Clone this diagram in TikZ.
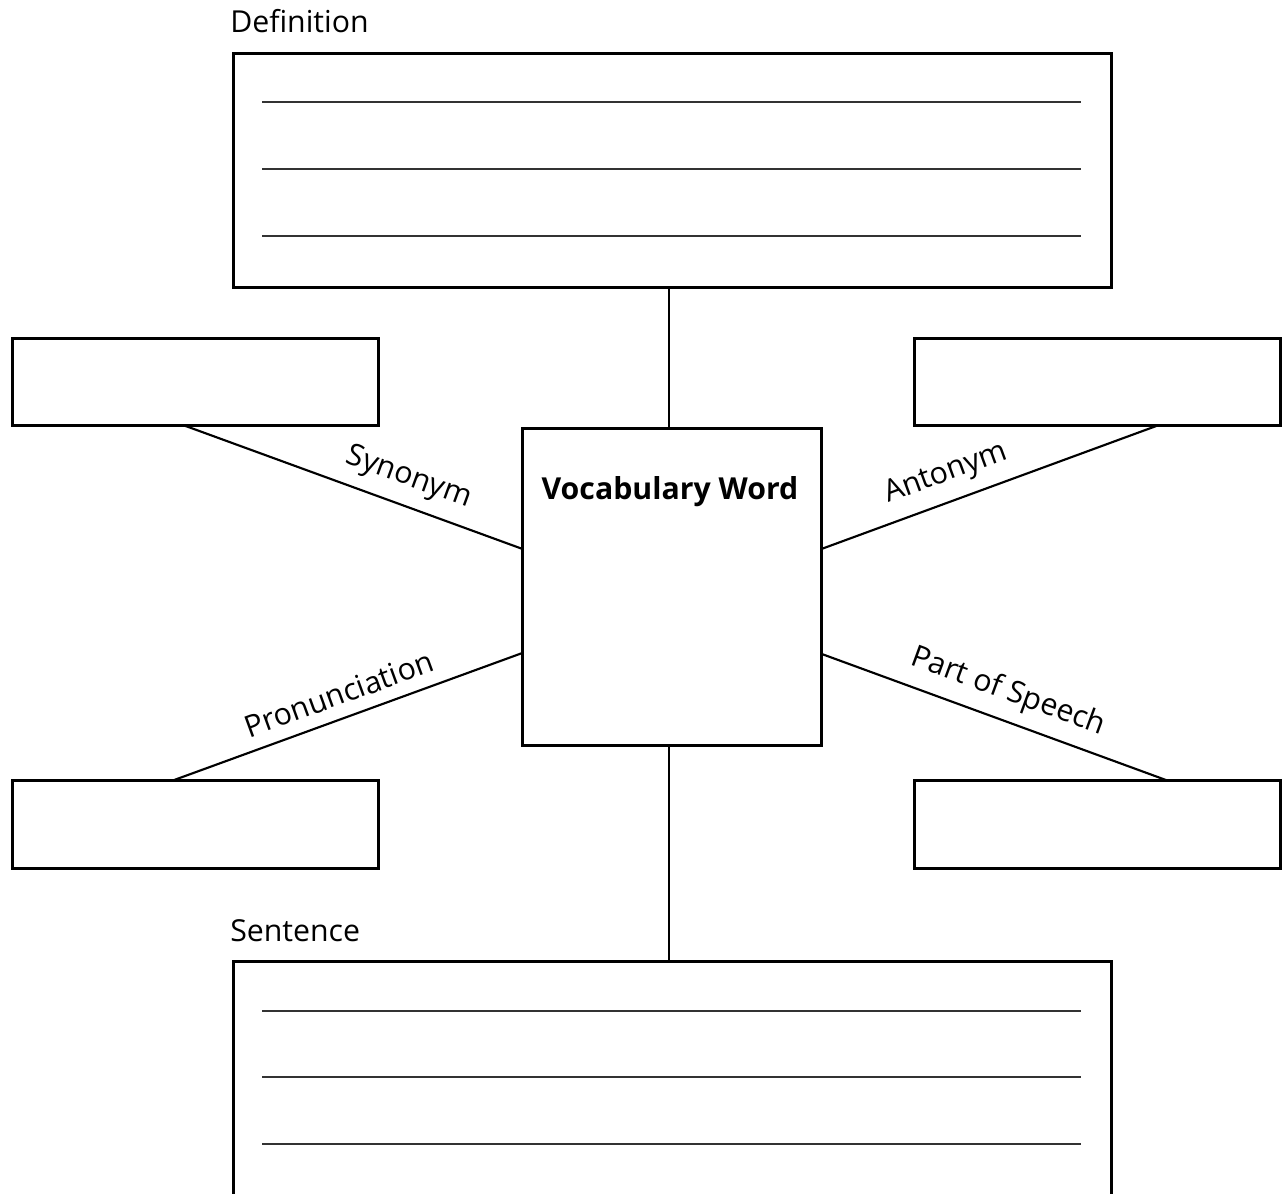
\documentclass[tikz,border=0pt]{standalone}
\usepackage{fontspec}
\setmainfont{Open Sans}
\usetikzlibrary{calc}
\begin{document}
\begin{tikzpicture}[x=0.75pt,y=-0.75pt,
  box/.style={draw, line width=2.25pt, inner sep=0pt, outer sep=0pt},
  sidebox/.style={box, minimum width=274.5pt, minimum height=65.6pt},
  rule/.style={line width=1.1pt, black!80},
  conn/.style={line width=1.6pt},
  lab/.style={font=\fontsize{22.7}{27}\selectfont, inner sep=0pt},
  slab/.style={font=\fontsize{22.7}{27}\selectfont, sloped, above=9pt, inner sep=0pt}]
\useasboundingbox (0,0) rectangle (1285,1194);
\clip (0,0) rectangle (1285,1194);
% boxes
\node[box, minimum width=658.5pt, minimum height=175.5pt] (def) at (672.5,170.5) {};
\node[box, minimum width=224.25pt, minimum height=237.75pt] (word) at (672,587) {};
\node[sidebox] (tl) at (195.5,382) {};
\node[sidebox] (tr) at (1097.5,382) {};
\node[sidebox] (bl) at (195.5,824.5) {};
\node[sidebox] (br) at (1097.5,824.5) {};
\node[box, minimum width=658.5pt, minimum height=216.4pt] (sent) at (672.5,1105.75) {};
% titles
\node[lab, anchor=base west] (deflab) at (230,33) {Definition};
\node[lab, anchor=base west] (sentlab) at (230,941) {Sentence};
\node[lab, font=\bfseries\fontsize{22.7}{27}\selectfont, anchor=base] (wordlab) at (670,499) {Vocabulary Word};
% writing lines
\foreach \dy in {48.5,115.5,182.5}{
  \draw[rule] ($(def.north west)+(28.5,\dy)$) -- ($(def.north east)+(-30.5,\dy)$);
}
\foreach \dy in {49.5,115.5,182.5}{
  \draw[rule] ($(sent.north west)+(28.5,\dy)$) -- ($(sent.north east)+(-30.5,\dy)$);
}
% vertical connectors
\coordinate (wtop) at ($(word.north)+(-3,0)$);
\coordinate (wbot) at ($(word.south)+(-3,0)$);
\draw[conn] (wtop |- def.south) -- (wtop);
\draw[conn] (wbot) -- (wbot |- sent.north);
% diagonal connectors
\coordinate (synA) at ($(tl.south west)!0.471!(tl.south east)$);
\coordinate (synB) at ($(word.north west)!0.38!(word.south west)$);
\coordinate (antA) at ($(word.north east)!0.38!(word.south east)$);
\coordinate (antB) at ($(tr.south west)!0.6626!(tr.south east)$);
\coordinate (proA) at ($(bl.north west)!0.436!(bl.north east)$);
\coordinate (proB) at ($(word.north west)!0.708!(word.south west)$);
\coordinate (posA) at ($(word.north east)!0.711!(word.south east)$);
\coordinate (posB) at ($(br.north west)!0.6926!(br.north east)$);
\draw[conn] (synA) -- node[slab, pos=0.635] (synlab) {Synonym} (synB);
\draw[conn] (antA) -- node[slab, pos=0.40] (antlab) {Antonym} (antB);
\draw[conn] (proA) -- node[slab, pos=0.50] (prolab) {Pronunciation} (proB);
\draw[conn] (posA) -- node[slab, pos=0.51] (poslab) {Part of Speech} (posB);
\end{tikzpicture}
\end{document}
